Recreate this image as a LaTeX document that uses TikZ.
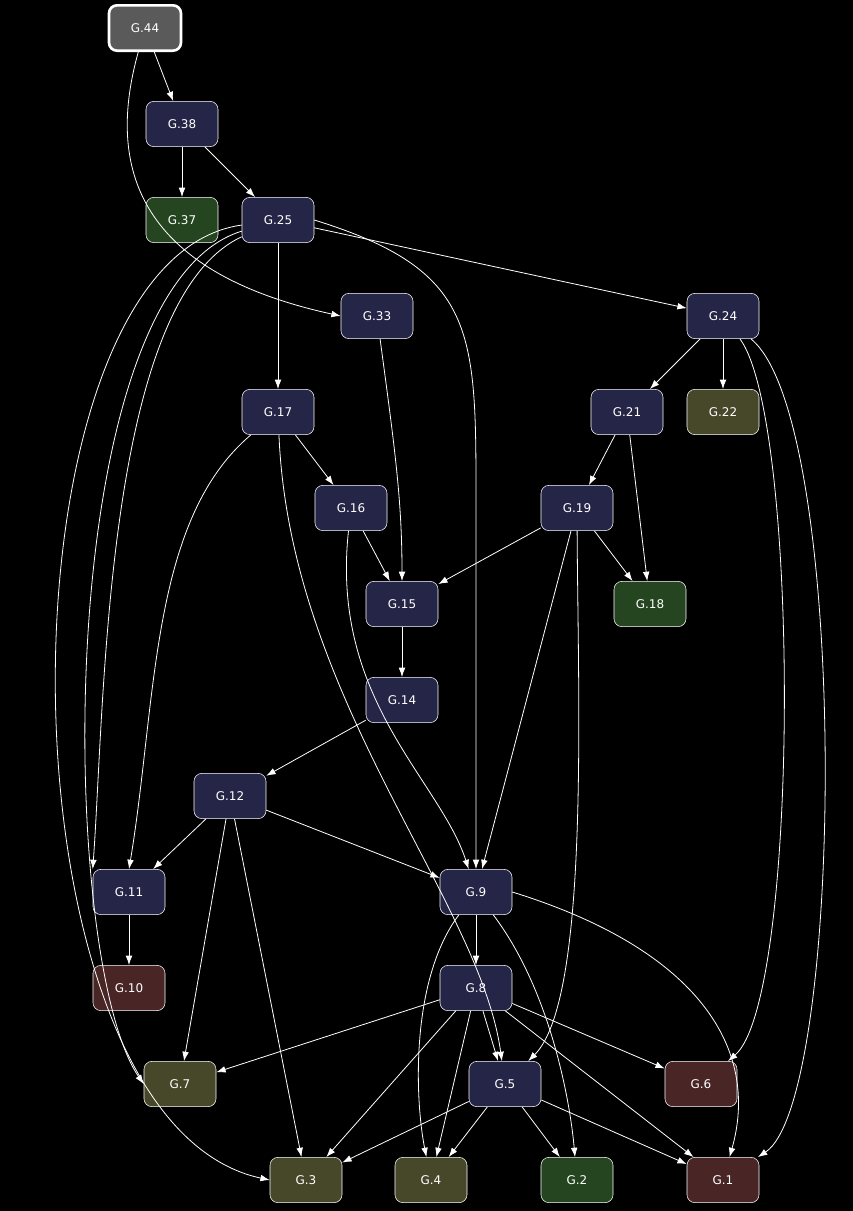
\documentclass[tikz,border=0pt]{standalone}
\usepackage{fontspec}
\setmainfont{DejaVu Sans}
\usetikzlibrary{arrows.meta}
\definecolor{navy}{HTML}{252547}
\definecolor{leaf}{HTML}{24451F}
\definecolor{olive}{HTML}{47472A}
\definecolor{wine}{HTML}{4A2525}
\definecolor{slate}{HTML}{5A5A5A}
\begin{document}
\begin{tikzpicture}[x=0.75pt, y=-0.75pt,
        gnode/.style={rectangle, draw=white, rounded corners=6pt, minimum width=54pt, minimum height=34pt, text=white, font=\fontsize{9}{10}\selectfont, fill=navy},
        sink/.style={gnode, fill=leaf},
        mid/.style={gnode, fill=olive},
        hot/.style={gnode, fill=wine},
        arrow/.style={-{Latex[length=7pt,width=5pt]}, white, line width=0.6pt}
    ]
        \fill[black] (0,0) rectangle (853,1211);
        \useasboundingbox (0,0) rectangle (853,1211);

        % Nodes
        \node (g44) [gnode, fill=slate, line width=2pt] at (145,28) {G.44};
        \node (g38) [gnode] at (182,124) {G.38};
        \node (g37) [sink] at (182,220) {G.37};
        \node (g25) [gnode] at (278,220) {G.25};
        \node (g33) [gnode] at (377,316) {G.33};
        \node (g24) [gnode] at (723,316) {G.24};
        \node (g17) [gnode] at (278,412) {G.17};
        \node (g21) [gnode] at (627,412) {G.21};
        \node (g22) [mid] at (723,412) {G.22};
        \node (g16) [gnode] at (351,508) {G.16};
        \node (g19) [gnode] at (577,508) {G.19};
        \node (g15) [gnode] at (402,604) {G.15};
        \node (g18) [sink] at (650,604) {G.18};
        \node (g14) [gnode] at (402,700) {G.14};
        \node (g12) [gnode] at (230,796) {G.12};
        \node (g11) [gnode] at (129,892) {G.11};
        \node (g9) [gnode] at (476,892) {G.9};
        \node (g10) [hot] at (129,988) {G.10};
        \node (g8) [gnode] at (476,988) {G.8};
        \node (g7) [mid] at (180,1084) {G.7};
        \node (g5) [gnode] at (505,1084) {G.5};
        \node (g6) [hot] at (701,1084) {G.6};
        \node (g3) [mid] at (306,1180) {G.3};
        \node (g4) [mid] at (431,1180) {G.4};
        \node (g2) [sink] at (577,1180) {G.2};
        \node (g1) [hot] at (723,1180) {G.1};

        % Connections
        \draw [arrow] (g44) -- (g38);
        \draw [arrow] (g44) .. controls (108,160) and (130,270) .. (g33.west);
        \draw [arrow] (g38) -- (g37);
        \draw [arrow] (g38) -- (g25);
        \draw [arrow] (g25) -- (g24);
        \draw [arrow] (g25) -- (g17);
        \draw [arrow] (g25.east) .. controls (476,270) and (476,330) .. (476,500) -- (g9.north);
        \draw [arrow] (g25) .. controls (105,300) and (105,700) .. (g11.north west);
        \draw [arrow] (g25) .. controls (50,290) and (58,960) .. (g7.west);
        \draw [arrow] (g25) .. controls (-10,260) and (-10,1120) .. (g3.west);
        \draw [arrow] (g24) -- (g21);
        \draw [arrow] (g24) -- (g22);
        \draw [arrow] (g24) .. controls (800,420) and (800,1000) .. (g6);
        \draw [arrow] (g24) .. controls (850,420) and (845,1100) .. (g1);
        \draw [arrow] (g21) -- (g19);
        \draw [arrow] (g21) -- (g18);
        \draw [arrow] (g17) -- (g16);
        \draw [arrow] (g17) .. controls (150,520) and (157,700) .. (g11.north);
        \draw [arrow] (g17) .. controls (290,700) and (480,900) .. (g5);
        \draw [arrow] (g16) -- (g15);
        \draw [arrow] (g16) .. controls (330,700) and (440,780) .. (g9);
        \draw [arrow] (g33) .. controls (395,450) and (402,500) .. (g15);
        \draw [arrow] (g19) -- (g15);
        \draw [arrow] (g19) -- (g18);
        \draw [arrow] (g19) -- (g9);
        \draw [arrow] (g19) .. controls (578,700) and (590,1000) .. (g5);
        \draw [arrow] (g15) -- (g14);
        \draw [arrow] (g14) -- (g12);
        \draw [arrow] (g12) -- (g11);
        \draw [arrow] (g12) -- (g9);
        \draw [arrow] (g12) -- (g7);
        \draw [arrow] (g12) -- (g3);
        \draw [arrow] (g11) -- (g10);
        \draw [arrow] (g9) -- (g8);
        \draw [arrow] (g9) .. controls (410,980) and (415,1100) .. (g4);
        \draw [arrow] (g9) .. controls (550,990) and (570,1100) .. (g2);
        \draw [arrow] (g9.east) .. controls (700,950) and (760,1050) .. (g1);
        \draw [arrow] (g8) -- (g7);
        \draw [arrow] (g8) -- (g3);
        \draw [arrow] (g8) -- (g4);
        \draw [arrow] (g8) -- (g5);
        \draw [arrow] (g8) -- (g6);
        \draw [arrow] (g8) -- (g1);
        \draw [arrow] (g5) -- (g3);
        \draw [arrow] (g5) -- (g4);
        \draw [arrow] (g5) -- (g2);
        \draw [arrow] (g5) -- (g1);
\end{tikzpicture}
\end{document}
